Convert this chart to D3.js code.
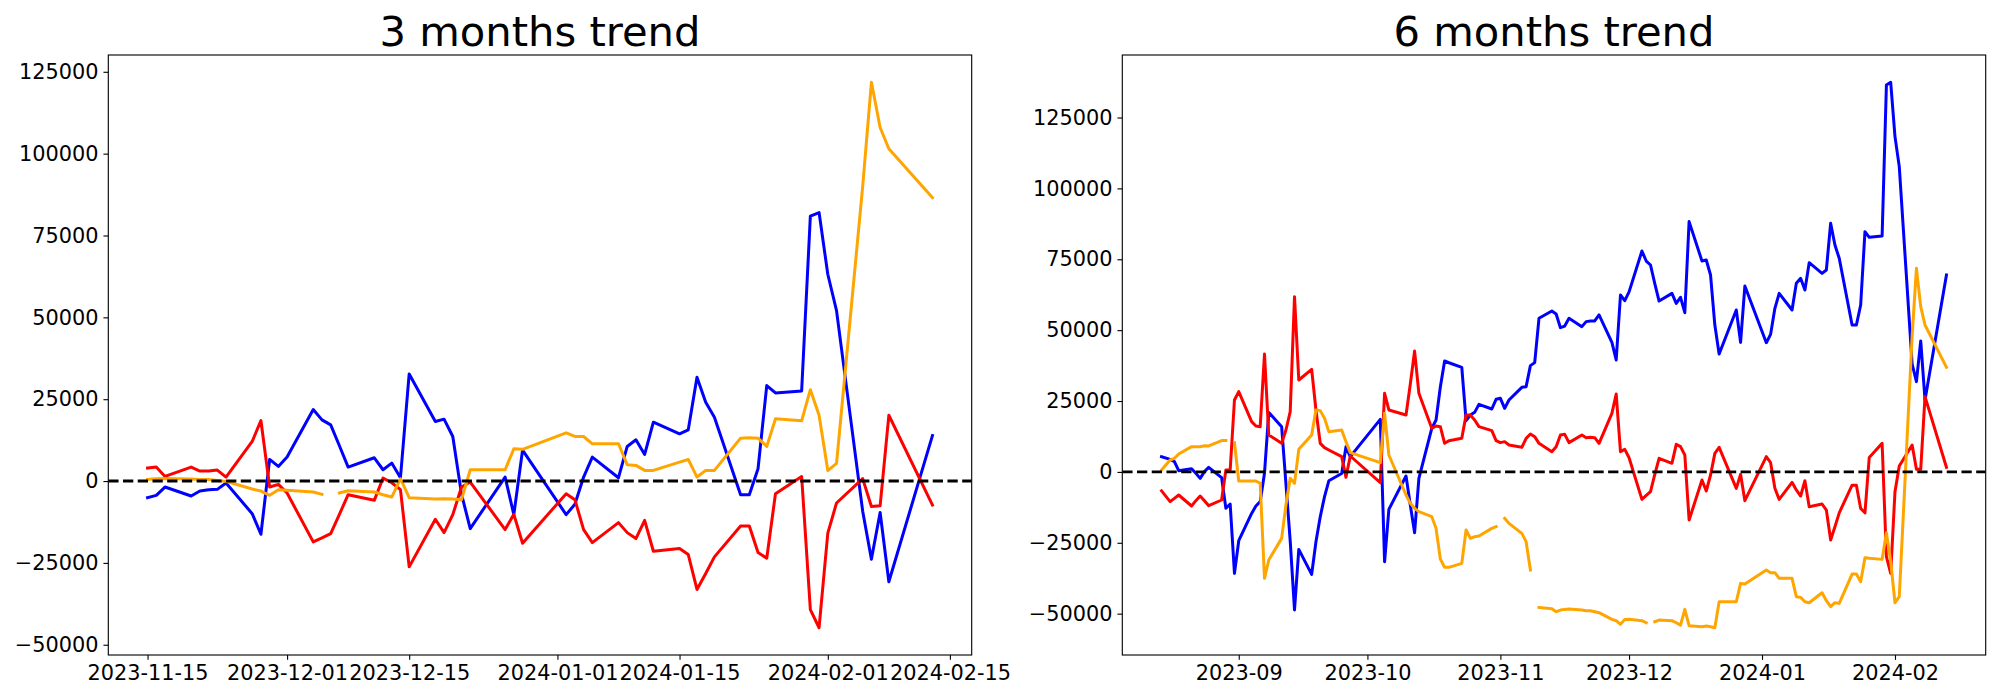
<!DOCTYPE html>
<html><head><meta charset="utf-8">
<script src="https://cdn.jsdelivr.net/npm/d3@7"></script>
<style>body{margin:0;background:#fff}svg{display:block}text{font-family:"DejaVu Sans",sans-serif}</style>
</head><body><svg id="chart" width="2000" height="700"></svg>
<script>
// ---------- 3 months data ----------
const leftDates = ["2023-11-15","2023-11-16","2023-11-17","2023-11-20","2023-11-21","2023-11-22","2023-11-23","2023-11-24","2023-11-27","2023-11-28","2023-11-29","2023-11-30","2023-12-01","2023-12-04","2023-12-05","2023-12-06","2023-12-07","2023-12-08","2023-12-11","2023-12-12","2023-12-13","2023-12-14","2023-12-15","2023-12-18","2023-12-19","2023-12-20","2023-12-21","2023-12-22","2023-12-26","2023-12-27","2023-12-28","2024-01-02","2024-01-03","2024-01-04","2024-01-05","2024-01-08","2024-01-09","2024-01-10","2024-01-11","2024-01-12","2024-01-15","2024-01-16","2024-01-17","2024-01-18","2024-01-19","2024-01-22","2024-01-23","2024-01-24","2024-01-25","2024-01-26","2024-01-29","2024-01-30","2024-01-31","2024-02-01","2024-02-02","2024-02-05","2024-02-06","2024-02-07","2024-02-08","2024-02-13"];
const leftBlue = [-5080,-4370,-1830,-4570,-3050,-2640,-2540,-610,-9960,-16260,6600,4470,7320,21840,18690,17170,10770,4270,7110,3450,5490,1020,32710,18190,18900,13610,-4000,-14530,1220,-10260,9450,-10260,-7110,1220,7320,1020,10570,12600,8130,17980,14430,15650,31700,24080,19510,-4170,-4170,3760,29160,26920,27500,80900,82000,63160,52050,-9200,-23900,-9600,-30750,13900];
const leftRed = [3960,4270,1420,4270,3050,3050,3350,1220,12090,18490,-1830,-1020,-3660,-18590,-17370,-16050,-10160,-4170,-5890,910,-510,-2640,-26210,-11680,-15750,-10260,-1830,-300,-14830,-10160,-19000,-3860,-5690,-14830,-18800,-12700,-15750,-17580,-11990,-21440,-20620,-22450,-33120,-28250,-23160,-13720,-13720,-21840,-23570,-3860,1400,-39300,-44800,-15900,-6700,750,-7770,-7560,20090,-7350];
const leftOrange = [510,710,810,610,510,510,200,-100,-2440,-3050,-4370,-2640,-2840,-3350,-4060,null,-3660,-2950,-3350,-4170,-4880,710,-5080,-5490,-5380,-5490,-5690,3450,3450,9860,9700,14730,13610,13610,11380,11380,4980,4780,3250,3250,5790,6600,1220,3250,3250,13110,13210,13110,10570,19000,18400,27900,20100,3200,5400,90000,121800,108000,101500,86600];

// ---------- 6 months data ----------
const rightDates = ["2023-08-14","2023-08-16","2023-08-17","2023-08-18","2023-08-21","2023-08-22","2023-08-23","2023-08-24","2023-08-25","2023-08-28","2023-08-29","2023-08-30","2023-08-31","2023-09-01","2023-09-04","2023-09-05","2023-09-06","2023-09-07","2023-09-08","2023-09-11","2023-09-12","2023-09-13","2023-09-14","2023-09-15","2023-09-18","2023-09-19","2023-09-20","2023-09-21","2023-09-22","2023-09-25","2023-09-26","2023-09-27","2023-10-04","2023-10-05","2023-10-06","2023-10-10","2023-10-11","2023-10-12","2023-10-13","2023-10-16","2023-10-17","2023-10-18","2023-10-19","2023-10-20","2023-10-23","2023-10-24","2023-10-25","2023-10-26","2023-10-27","2023-10-30","2023-10-31","2023-11-01","2023-11-02","2023-11-03","2023-11-06","2023-11-07","2023-11-08","2023-11-09","2023-11-10","2023-11-13","2023-11-14","2023-11-15","2023-11-16","2023-11-17","2023-11-20","2023-11-21","2023-11-22","2023-11-23","2023-11-24","2023-11-27","2023-11-28","2023-11-29","2023-11-30","2023-12-01","2023-12-04","2023-12-05","2023-12-06","2023-12-07","2023-12-08","2023-12-11","2023-12-12","2023-12-13","2023-12-14","2023-12-15","2023-12-18","2023-12-19","2023-12-20","2023-12-21","2023-12-22","2023-12-26","2023-12-27","2023-12-28","2024-01-02","2024-01-03","2024-01-04","2024-01-05","2024-01-08","2024-01-09","2024-01-10","2024-01-11","2024-01-12","2024-01-15","2024-01-16","2024-01-17","2024-01-18","2024-01-19","2024-01-22","2024-01-23","2024-01-24","2024-01-25","2024-01-26","2024-01-29","2024-01-30","2024-01-31","2024-02-01","2024-02-02","2024-02-05","2024-02-06","2024-02-07","2024-02-08","2024-02-13"];
const rightBlue = [5370,4430,3640,440,1150,-500,-2280,100,1620,-2020,-12840,-11310,-35790,-24260,-14640,-12030,-10500,-500,20990,15950,-4150,-24400,-48680,-27330,-36160,-24630,-15800,-8740,-3140,-550,8900,5380,18550,-31690,-13200,-1430,-11700,-21440,-2260,15370,18310,29950,39120,38500,36890,18070,20070,21010,23830,22190,25600,25960,22430,25370,29840,30070,37480,38540,54180,56750,55690,50870,51450,54180,51240,53010,53250,53250,55360,45710,39480,62390,60390,63500,77910,74380,72970,66380,60270,62980,59450,61580,56160,88290,74380,74730,69440,51800,41580,57100,45690,65560,45570,48510,57690,62980,57100,66510,68280,64160,73800,70040,71220,87710,80040,75340,51820,51820,58870,84740,82740,83210,136490,137430,118260,107680,38000,31840,46180,25370,69440];
const rightRed = [-6670,-10500,-9330,-8150,-12030,-10150,-8500,-10150,-11930,-9910,670,670,25370,28300,17720,16190,15960,41600,13020,10080,14780,21250,61820,32420,36180,21840,10080,8560,7740,5380,-1910,5610,-3800,27710,21840,20070,31000,42630,27710,15370,16190,15960,10080,11020,11840,20070,20070,18310,15960,14550,11020,10320,10670,9490,8670,11840,13370,12430,10080,7140,8900,13020,13250,10320,13020,12080,12200,12080,10080,20660,27480,7140,7960,5000,-9680,-8270,-6970,-860,4800,3030,9730,8900,5960,-16970,-2860,-6730,-1090,6550,8670,-5790,-860,-10150,5380,3260,-5790,-9680,-3680,-6380,-8500,-3090,-12270,-11320,-13440,-24020,-19330,-14430,-4670,-4670,-12900,-14430,5090,10080,-29910,-35790,-6970,2090,9490,910,910,26550,1610];
const rightOrange = [670,4200,4780,6340,8900,8900,8900,9200,9150,11040,11040,null,10340,-3210,-3210,-3210,-4010,-37550,-31060,-23440,-11640,-2260,-4030,7960,13020,21840,21610,18900,14200,14780,10670,6810,3260,20660,5960,-8150,-11090,-12850,-14030,-15790,-19910,-30730,-33670,-33670,-32260,-20500,-23440,-22850,-22620,-19910,-19320,null,-16380,-18150,-21670,-24610,-34610,null,-47780,-48250,-49310,-48720,-48490,-48370,-48720,-48960,-48960,-49310,-49660,-52020,-52490,-53780,-52020,-51960,-52490,-53200,null,-52840,-52260,-52490,-53200,-54020,-48490,-54250,-54600,-54370,-54600,-54960,-45790,-45790,-39320,-39560,-34610,-35550,-35550,-37550,-37550,-44020,-44250,-45790,-46140,-42610,-45430,-47540,-46140,-46370,-36020,-36020,-38720,-30260,-30490,-30850,-21440,-31670,-46140,-44020,48000,71810,58280,51820,36880];

// ---------- ticks / labels ----------
const yTickValues = [-50000,-25000,0,25000,50000,75000,100000,125000];
const leftXTicks = ["2023-11-15","2023-12-01","2023-12-15","2024-01-01","2024-01-15","2024-02-01","2024-02-15"];
const rightXTicks = ["2023-09","2023-10","2023-11","2023-12","2024-01","2024-02"];
const titles = ["3 months trend","6 months trend"];
const seriesColors = ["blue","red","orange"];

const PT = 100/72;
const svg = d3.select("#chart");
svg.append("rect").attr("width",2000).attr("height",700).attr("fill","#fff");

function panel(id, box, dateStrs, seriesList, tickStrs, tickParse, title) {
  const parse = d3.utcParse("%Y-%m-%d");
  const dates = dateStrs.map(parse);
  const t0 = +dates[0], t1 = +dates[dates.length-1];
  const pad = (t1 - t0) * 0.05;
  const x = d3.scaleUtc().domain([new Date(t0 - pad), new Date(t1 + pad)]).range([box.x0, box.x1]);
  const allV = seriesList.flat().filter(v => v != null);
  const vmin = d3.min(allV), vmax = d3.max(allV);
  const vpad = (vmax - vmin) * 0.05;
  const y = d3.scaleLinear().domain([vmin - vpad, vmax + vpad]).range([box.y1, box.y0]);

  const g = svg.append("g");
  g.append("clipPath").attr("id", "clip" + id).append("rect")
    .attr("x", box.x0).attr("y", box.y0).attr("width", box.x1 - box.x0).attr("height", box.y1 - box.y0);

  const plot = g.append("g").attr("clip-path", `url(#clip${id})`);
  const line = d3.line().defined(d => d.v != null).x(d => x(d.t)).y(d => y(d.v));
  seriesList.forEach((vals, i) => {
    const pts = vals.map((v, k) => ({t: dates[k], v: v}));
    plot.append("path").attr("d", line(pts)).attr("fill", "none")
      .attr("stroke", seriesColors[i]).attr("stroke-width", 3)
      .attr("stroke-linejoin", "round").attr("stroke-linecap", "square");
  });
  plot.append("line").attr("x1", box.x0).attr("x2", box.x1).attr("y1", y(0)).attr("y2", y(0))
    .attr("stroke", "#000").attr("stroke-width", 2.9)
    .attr("stroke-dasharray", `${3.7*2*PT},${1.6*2*PT}`);

  // axes
  const tickDates = tickStrs.map(tickParse);
  const xa = g.append("g").attr("transform", `translate(0,${box.y1})`)
    .call(d3.axisBottom(x).tickValues(tickDates).tickFormat((d, i) => tickStrs[i])
      .tickSize(3.5 * PT).tickPadding(3.5 * PT));
  const ya = g.append("g").attr("transform", `translate(${box.x0},0)`)
    .call(d3.axisLeft(y).tickValues(yTickValues).tickFormat(v => v < 0 ? "\u2212" + Math.abs(v) : String(v))
      .tickSize(3.5 * PT).tickPadding(3.5 * PT));
  [xa, ya].forEach(a => {
    a.select(".domain").remove();
    a.attr("color", "#000");
    a.selectAll("line").attr("stroke-width", 0.8 * PT);
    a.selectAll("text").attr("font-size", 15 * PT).attr("font-family", '"DejaVu Sans", sans-serif').attr("fill", "#000");
  });

  g.append("rect").attr("x", box.x0).attr("y", box.y0)
    .attr("width", box.x1 - box.x0).attr("height", box.y1 - box.y0)
    .attr("fill", "none").attr("stroke", "#000").attr("stroke-width", 0.8 * PT);

  g.append("text").attr("x", (box.x0 + box.x1) / 2).attr("y", 46)
    .attr("text-anchor", "middle").attr("font-size", 30 * PT).attr("fill", "#000").text(title);
}

panel("L", {x0: 108.3, x1: 971.7, y0: 55, y1: 655}, leftDates, [leftBlue, leftRed, leftOrange],
  leftXTicks, d3.utcParse("%Y-%m-%d"), titles[0]);
panel("R", {x0: 1122.3, x1: 1985.7, y0: 55, y1: 655}, rightDates, [rightBlue, rightRed, rightOrange],
  rightXTicks, d3.utcParse("%Y-%m"), titles[1]);
</script>
</body></html>
